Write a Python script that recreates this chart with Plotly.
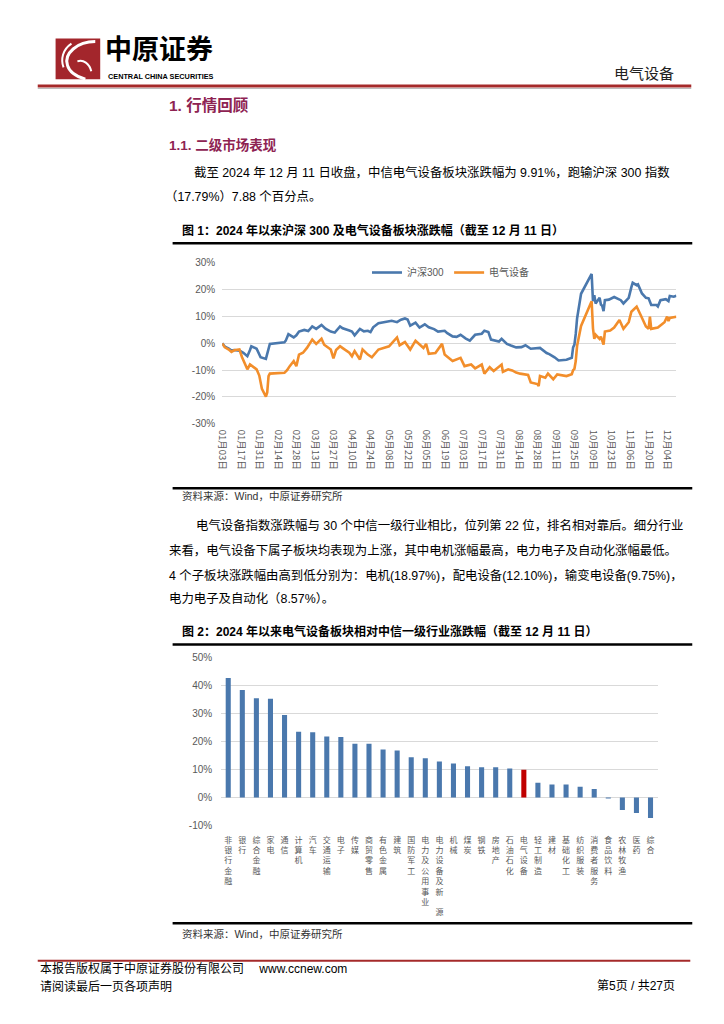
import plotly.graph_objects as go

# ---------------- data ----------------
hs300_dates = ["2024-01-03","2024-01-05","2024-01-08","2024-01-10","2024-01-12","2024-01-16","2024-01-19",
    "2024-01-22","2024-01-24","2024-01-25","2024-01-29","2024-01-31","2024-02-01","2024-02-05","2024-02-06",
    "2024-02-07","2024-02-08","2024-02-19","2024-02-20","2024-02-22","2024-02-26","2024-02-28","2024-03-01",
    "2024-03-05","2024-03-08","2024-03-11","2024-03-14","2024-03-18","2024-03-21","2024-03-25","2024-03-28",
    "2024-04-01","2024-04-03","2024-04-08","2024-04-10","2024-04-12","2024-04-16","2024-04-19","2024-04-22",
    "2024-04-24","2024-04-26","2024-04-30","2024-05-06","2024-05-10","2024-05-14","2024-05-17","2024-05-20",
    "2024-05-22","2024-05-24","2024-05-28","2024-05-31","2024-06-04","2024-06-07","2024-06-11","2024-06-14",
    "2024-06-19","2024-06-21","2024-06-25","2024-06-28","2024-07-01","2024-07-05","2024-07-08","2024-07-12",
    "2024-07-17","2024-07-19","2024-07-22","2024-07-24","2024-07-30","2024-08-01","2024-08-05","2024-08-08",
    "2024-08-12","2024-08-16","2024-08-19","2024-08-23","2024-08-28","2024-08-30","2024-09-04","2024-09-06",
    "2024-09-10","2024-09-13","2024-09-19","2024-09-23","2024-09-24","2024-09-25","2024-09-26","2024-09-27",
    "2024-09-30","2024-10-08","2024-10-09","2024-10-10","2024-10-11","2024-10-14","2024-10-15","2024-10-16",
    "2024-10-17","2024-10-18","2024-10-21","2024-10-25","2024-10-30","2024-11-01","2024-11-05","2024-11-06",
    "2024-11-07","2024-11-08","2024-11-11","2024-11-12","2024-11-14","2024-11-15","2024-11-18","2024-11-20",
    "2024-11-22","2024-11-26","2024-11-27","2024-11-29","2024-12-03","2024-12-05","2024-12-06","2024-12-09",
    "2024-12-11"]
hs300_values = [0.0,-1.2,-2.0,-2.7,-2.5,-2.7,-3.5,
    -4.8,-2.5,-1.1,-2.0,-3.8,-5.2,-5.8,-3.5,
    -1.7,-0.2,0.4,1.0,3.4,2.2,3.0,4.4,
    5.0,4.6,6.3,5.4,6.9,5.5,4.4,4.0,
    6.3,5.6,4.8,4.4,3.0,5.4,4.5,4.7,
    4.2,6.0,7.5,8.1,8.4,7.9,8.8,9.3,
    8.9,6.6,7.7,5.9,7.1,6.0,5.3,4.4,
    4.7,3.8,2.6,2.4,3.2,1.8,1.0,3.2,
    3.6,4.7,4.2,1.4,0.7,1.7,-0.2,-0.8,
    -1.5,-1.4,-0.7,-2.0,-1.8,-1.7,-3.6,-4.0,
    -5.2,-6.4,-6.1,-5.4,-1.5,-0.5,3.5,9.3,
    18.5,25.9,15.7,18.0,14.9,17.0,14.5,14.0,
    12.0,16.1,16.3,17.3,16.1,14.9,17.0,19.5,
    21.0,22.6,21.7,22.0,20.0,18.6,17.0,16.8,
    14.3,14.3,13.8,16.1,16.5,15.8,17.7,17.4,
    17.79]

elec_dates = ["2024-01-03","2024-01-05","2024-01-08","2024-01-10","2024-01-12","2024-01-16","2024-01-18",
    "2024-01-22","2024-01-24","2024-01-26","2024-01-29","2024-01-31","2024-02-01","2024-02-02","2024-02-05",
    "2024-02-06","2024-02-07","2024-02-08","2024-02-19","2024-02-20","2024-02-21","2024-02-23","2024-02-26",
    "2024-02-28","2024-03-01","2024-03-04","2024-03-07","2024-03-11","2024-03-14","2024-03-18","2024-03-20",
    "2024-03-25","2024-03-27","2024-03-29","2024-04-01","2024-04-03","2024-04-08","2024-04-10","2024-04-12",
    "2024-04-16","2024-04-18","2024-04-22","2024-04-25","2024-04-30","2024-05-08","2024-05-10","2024-05-14",
    "2024-05-16","2024-05-20","2024-05-24","2024-05-28","2024-06-03","2024-06-05","2024-06-07","2024-06-12",
    "2024-06-17","2024-06-19","2024-06-21","2024-06-25","2024-07-01","2024-07-04","2024-07-09","2024-07-12",
    "2024-07-17","2024-07-19","2024-07-23","2024-07-26","2024-08-01","2024-08-02","2024-08-06","2024-08-09",
    "2024-08-12","2024-08-15","2024-08-21","2024-08-23","2024-08-28","2024-08-29","2024-08-30","2024-09-03",
    "2024-09-05","2024-09-09","2024-09-12","2024-09-19","2024-09-23","2024-09-24","2024-09-25","2024-09-26",
    "2024-09-27","2024-09-30","2024-10-08","2024-10-09","2024-10-10","2024-10-11","2024-10-14","2024-10-15",
    "2024-10-17","2024-10-18","2024-10-22","2024-10-25","2024-10-29","2024-11-01","2024-11-05","2024-11-07",
    "2024-11-11","2024-11-12","2024-11-14","2024-11-18","2024-11-20","2024-11-21","2024-11-22","2024-11-27",
    "2024-12-02","2024-12-04","2024-12-05","2024-12-06","2024-12-09","2024-12-11"]
elec_values = [0.0,-1.5,-2.3,-3.2,-2.6,-2.3,-5.2,
    -9.7,-7.9,-8.5,-9.7,-12.0,-14.6,-17.0,-19.9,
    -18.3,-12.2,-11.3,-11.0,-10.6,-10.0,-8.5,-6.6,
    -8.5,-4.2,-3.5,-1.7,1.4,-0.2,1.7,-0.5,
    -2.3,-5.6,-2.5,-1.1,-1.8,-3.5,-4.8,-2.9,
    -6.0,-2.3,-4.2,-5.2,-2.3,-1.1,0.0,2.2,
    -0.7,0.5,-2.3,1.0,-1.7,-0.2,-3.9,-3.6,
    -0.2,-4.2,-5.0,-6.6,-5.4,-8.5,-7.9,-9.3,
    -7.9,-11.3,-8.9,-10.3,-7.9,-10.6,-9.7,-10.1,
    -10.9,-11.3,-11.8,-14.6,-15.2,-15.9,-12.2,-12.8,
    -11.3,-13.4,-11.6,-12.2,-11.5,-10.0,-9.5,-6.6,
    -1.0,6.5,15.7,5.6,1.7,3.2,1.7,2.5,
    -0.5,4.4,4.8,5.9,8.7,5.4,7.9,11.8,
    13.7,12.5,10.6,6.3,5.4,10.0,5.4,5.9,
    7.9,10.0,8.3,9.5,9.6,9.91]

x_tick_dates = ["2024-01-03","2024-01-17","2024-01-31","2024-02-14","2024-02-28","2024-03-13","2024-03-27",
    "2024-04-10","2024-04-24","2024-05-08","2024-05-22","2024-06-05","2024-06-19","2024-07-03","2024-07-17",
    "2024-07-31","2024-08-14","2024-08-28","2024-09-11","2024-09-25","2024-10-09","2024-10-23","2024-11-06",
    "2024-11-20","2024-12-04"]
x_tick_labels = ["01月03日","01月17日","01月31日","02月14日","02月28日","03月13日","03月27日",
    "04月10日","04月24日","05月08日","05月22日","06月05日","06月19日","07月03日","07月17日",
    "07月31日","08月14日","08月28日","09月11日","09月25日","10月09日","10月23日","11月06日",
    "11月20日","12月04日"]
y1_ticks = [-30, -20, -10, 0, 10, 20, 30]
y1_labels = ["-30%", "-20%", "-10%", "0%", "10%", "20%", "30%"]

industries = ["非银行金融","银行","综合金融","家电","通信","计算机","汽车","交通运输","电子","传媒",
    "商贸零售","有色金属","建筑","国防军工","电力及公用事业","电力设备及新能源","机械","煤炭","钢铁","房地产",
    "石油石化","电气设备","轻工制造","建材","基础化工","纺织服装","消费者服务","食品饮料","农林牧渔","医药","综合"]
industry_returns = [42.7,38.4,35.5,35.3,29.5,23.5,23.3,21.8,21.6,19.2,
    19.2,17.2,16.8,14.4,14.0,12.9,12.2,11.2,10.8,10.8,
    10.4,9.91,5.3,4.7,4.7,3.9,3.1,-0.1,-4.4,-5.5,-7.3]
highlight = "电气设备"
y2_ticks = [-10, 0, 10, 20, 30, 40, 50]
y2_labels = ["-10%", "0%", "10%", "20%", "30%", "40%", "50%"]

# ---------------- styling ----------------
W, H = 724, 1024
BLUE = "#4A78AD"
ORANGE = "#F28E2B"
RED = "#C00000"
MAROON = "#8E2352"
GRID = "#D9D9D9"
TICK = "#595959"
CJK = "Noto Sans CJK SC"
SANS = "Liberation Sans, Noto Sans CJK SC"

def fx(x):
    return x / W

def fy(y):
    return 1 - y / H

def stack(name):
    chars = list(name)
    if name == "电力设备及新能源":
        chars[6] = "\u3000"
    return "<br>".join(chars)

fig = go.Figure()
fig.add_trace(go.Scatter(x=hs300_dates, y=hs300_values, mode="lines", name="沪深300",
                         line=dict(color=BLUE, width=2.6), xaxis="x", yaxis="y"))
fig.add_trace(go.Scatter(x=elec_dates, y=elec_values, mode="lines", name="电气设备",
                         line=dict(color=ORANGE, width=2.6), xaxis="x", yaxis="y"))
fig.add_trace(go.Bar(x=industries, y=industry_returns,
                     marker=dict(color=[RED if c == highlight else BLUE for c in industries], line=dict(width=0)),
                     width=0.36, xaxis="x2", yaxis="y2", showlegend=False))

# ---------------- shapes ----------------
shapes = []
def hline(x0, x1, y, color, width):
    shapes.append(dict(type="line", xref="paper", yref="paper", x0=fx(x0), x1=fx(x1),
                       y0=fy(y), y1=fy(y), line=dict(color=color, width=width)))

# header logo
shapes.append(dict(type="rect", xref="paper", yref="paper", x0=fx(50), x1=fx(95), y0=fy(74), y1=fy(33),
                   fillcolor="#A3262C", line=dict(width=0)))
def path(pts):
    s = "M {} {}".format(fx(pts[0][0]), fy(pts[0][1]))
    rest = pts[1:]
    for i in range(0, len(rest), 3):
        a, b, c = rest[i:i+3]
        s += " C {} {} {} {} {} {}".format(fx(a[0]), fy(a[1]), fx(b[0]), fy(b[1]), fx(c[0]), fy(c[1]))
    return s
shapes.append(dict(type="path", xref="paper", yref="paper",
                   path=path([(90, 36), (72, 36), (58, 48), (62, 60), (64, 67), (70, 71), (80, 74)]),
                   line=dict(color="white", width=3)))
shapes.append(dict(type="path", xref="paper", yref="paper",
                   path=path([(66, 38), (57, 44), (55, 54), (58, 62)]),
                   line=dict(color="white", width=2)))
shapes.append(dict(type="path", xref="paper", yref="paper",
                   path=path([(72, 56), (78, 54), (84, 58), (86, 66)]),
                   line=dict(color="white", width=2)))

hline(32, 691, 81, "#A52A2A", 3)
hline(32, 691, 83.5, "#BBBBBB", 1)
hline(168, 692, 240, "#000000", 2.5)
hline(168, 692, 488, "#000000", 2.5)
hline(168, 692, 646, "#000000", 2.5)
hline(168, 692, 928, "#000000", 2.5)
hline(32, 690, 966, "#A52A2A", 2)

# ---------------- annotations ----------------
ann = []
def text(x, y, s, size, color="#000000", family=SANS, anchor="left", bold=False, yanchor="middle"):
    if bold:
        s = "<b>" + s + "</b>"
    ann.append(dict(x=fx(x), y=fy(y), xref="paper", yref="paper", text=s, showarrow=False,
                    xanchor=anchor, yanchor=yanchor, font=dict(size=size, color=color, family=family)))

text(98, 64, "中原证券", 27, bold=True, family=CJK, yanchor="bottom")
text(101, 65, "CENTRAL CHINA SECURITIES", 7.3, bold=True, family="Liberation Sans", yanchor="top")
text(676, 67, "电气设备", 15, family=CJK, anchor="right", color="#222222")

text(162, 100, "1. 行情回顾", 15.5, color=MAROON, bold=True)
text(162, 141, "1.1. 二级市场表现", 13.5, color=MAROON, bold=True)

BODY = 12.4
text(188, 168, "截至 2024 年 12 月 11 日收盘，中信电气设备板块涨跌幅为 9.91%，跑输沪深 300 指数", BODY)
text(158, 193, "（17.79%）7.88 个百分点。", BODY)

text(175, 227, "图 1：2024 年以来沪深 300 及电气设备板块涨跌幅（截至 12 月 11 日）", 12, bold=True)
text(175, 496, "资料来源：Wind，中原证券研究所", 10.5, color="#333333")

text(190, 526, "电气设备指数涨跌幅与 30 个中信一级行业相比，位列第 22 位，排名相对靠后。细分行业", BODY)
text(162, 551, "来看，电气设备下属子板块均表现为上涨，其中电机涨幅最高，电力电子及自动化涨幅最低。", BODY)
text(162, 576, "4 个子板块涨跌幅由高到低分别为：电机(18.97%)，配电设备(12.10%)，输变电设备(9.75%)，", BODY)
text(162, 600, "电力电子及自动化（8.57%）。", BODY)

text(175, 633, "图 2：2024 年以来电气设备板块相对中信一级行业涨跌幅（截至 12 月 11 日）", 12, bold=True)
text(175, 939, "资料来源：Wind，中原证券研究所", 10.5, color="#333333")

text(32, 974, "本报告版权属于中原证券股份有限公司　 www.ccnew.com", 12)
text(32, 992, "请阅读最后一页各项声明", 12)
text(677, 992, "第5页 / 共27页", 12, anchor="right")

# ---------------- layout ----------------
fig.update_layout(
    width=W, height=H, margin=dict(l=0, r=0, t=0, b=0),
    paper_bgcolor="white", plot_bgcolor="white",
    font=dict(family=SANS, color="#000000"),
    shapes=shapes, annotations=ann,
    bargap=0.6,
    legend=dict(orientation="h", x=fx(364), y=fy(255), xanchor="left", yanchor="top",
                font=dict(size=10, color=TICK, family=SANS), itemwidth=30,
                bgcolor="rgba(0,0,0,0)", tracegroupgap=0),
    xaxis=dict(domain=[fx(218), fx(676)], type="date", range=["2024-01-03", "2024-12-11"],
               tickmode="array", tickvals=x_tick_dates, ticktext=x_tick_labels, tickangle=90,
               showgrid=False, zeroline=False, showline=False, ticks="",
               tickfont=dict(size=9.5, color=TICK, family=CJK), anchor="y", ticklabelstandoff=5),
    yaxis=dict(domain=[fy(422.7), fy(260)], range=[-30, 30], tickmode="array",
               tickvals=y1_ticks, ticktext=y1_labels, showgrid=True, gridcolor=GRID, gridwidth=1,
               zeroline=True, zerolinecolor=GRID, zerolinewidth=1, showline=False, ticks="",
               tickfont=dict(size=10, color=TICK, family="Liberation Sans"), anchor="x",
               ticklabelstandoff=6),
    xaxis2=dict(domain=[fx(217), fx(657)], type="category", tickmode="array",
                tickvals=industries, ticktext=[stack(c) for c in industries], tickangle=0,
                showgrid=False, zeroline=False, showline=False, ticks="",
                tickfont=dict(size=8, color=TICK, family=CJK), anchor="y2", ticklabelstandoff=8),
    yaxis2=dict(domain=[fy(829.3), fy(659.3)], range=[-10, 50], tickmode="array",
                tickvals=y2_ticks, ticktext=y2_labels, showgrid=True, gridcolor=GRID, gridwidth=1,
                zeroline=True, zerolinecolor=GRID, zerolinewidth=1, showline=False, ticks="",
                tickfont=dict(size=10, color=TICK, family="Liberation Sans"), anchor="x2",
                ticklabelstandoff=8),
)

fig.write_html("out.html", config={"displayModeBar": False},
               post_script="document.body.style.margin='0';document.body.style.overflow='hidden';")
